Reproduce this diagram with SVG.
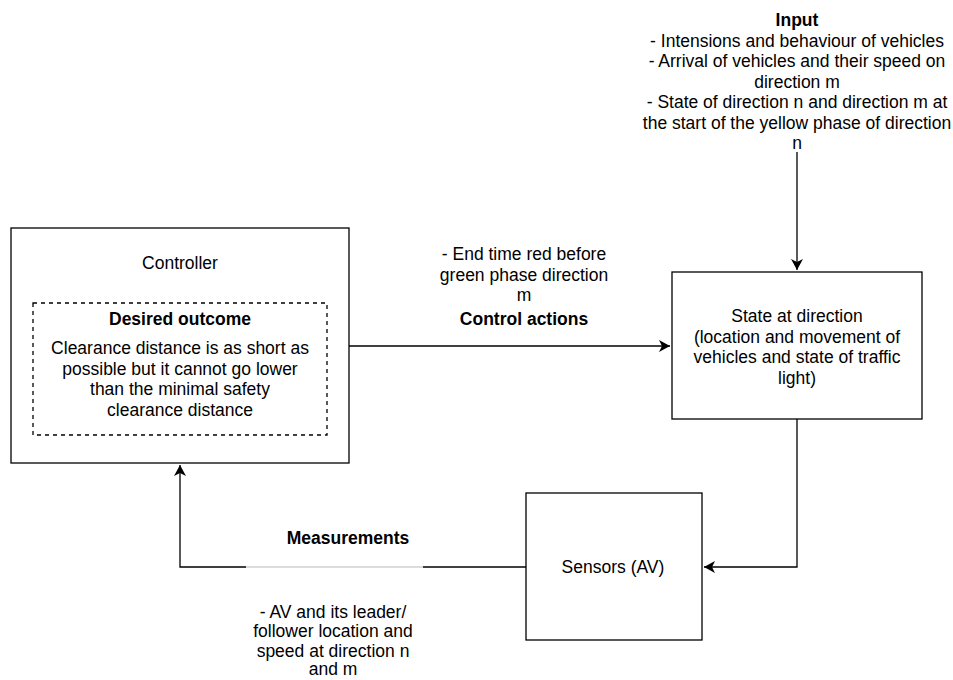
<svg xmlns="http://www.w3.org/2000/svg" width="953" height="680" viewBox="0 0 953 680">
<style>
text{font-family:"Liberation Sans",Arial,sans-serif;font-size:17.5px;fill:#000;text-anchor:middle}
.b{font-weight:bold}
.box{fill:#fff;stroke:#000;stroke-width:1.3}
.dash{fill:none;stroke:#000;stroke-width:1.3;stroke-dasharray:4 4}
.ln{fill:none;stroke:#000;stroke-width:1.3}
</style>
<defs>
<marker id="arr" markerUnits="userSpaceOnUse" markerWidth="14" markerHeight="14" refX="11" refY="6" orient="auto">
<path d="M0,0 L11,6 L0,12 L3,6 z" fill="#000"/>
</marker>
</defs>
<rect width="953" height="680" fill="#fff"/>
<g id="connectors">
<path class="ln" d="M797,152 L797,270" marker-end="url(#arr)"/>
<path class="ln" d="M349,346 L670,346" marker-end="url(#arr)"/>
<path class="ln" d="M797,419 L797,567 L704,567" marker-end="url(#arr)"/>
<path class="ln" d="M526,567 L423,567"/>
<path d="M423,567 L246,567" fill="none" stroke="#d0d0d0" stroke-width="1.3"/>
<path class="ln" d="M246,567 L180,567 L180,465" marker-end="url(#arr)"/>
</g>
<g id="input">
<text class="b" x="797" y="26">Input</text>
<text x="797" y="46.5">- Intensions and behaviour of vehicles</text>
<text x="797" y="67">- Arrival of vehicles and their speed on</text>
<text x="797" y="87.5">direction m</text>
<text x="797" y="108">- State of direction n and direction m at</text>
<text x="797" y="128.5">the start of the yellow phase of direction</text>
<text x="797" y="149">n</text>
</g>
<g id="controller">
<rect class="box" x="11" y="228" width="338" height="235"/>
<text x="180" y="269">Controller</text>
</g>
<g id="desired-outcome">
<rect class="dash" x="33" y="303" width="294" height="132"/>
<text class="b" x="180" y="325">Desired outcome</text>
<text x="180" y="354">Clearance distance is as short as</text>
<text x="180" y="374.5">possible but it cannot go lower</text>
<text x="180" y="395">than the minimal safety</text>
<text x="180" y="415.5">clearance distance</text>
</g>
<g id="control-actions">
<text x="524" y="260">- End time red before</text>
<text x="524" y="280.5">green phase direction</text>
<text x="524" y="301">m</text>
<text class="b" x="524" y="325">Control actions</text>
</g>
<g id="state">
<rect class="box" x="672" y="272" width="250" height="147"/>
<text x="797" y="322">State at direction</text>
<text x="797" y="342.5">(location and movement of</text>
<text x="797" y="363">vehicles and state of traffic</text>
<text x="797" y="383.5">light)</text>
</g>
<g id="sensors">
<rect class="box" x="526" y="493" width="176" height="147"/>
<text x="613" y="573">Sensors (AV)</text>
</g>
<g id="measurements">
<text class="b" x="348" y="544">Measurements</text>
<text x="333" y="618">- AV and its leader/</text>
<text x="333" y="637">follower location and</text>
<text x="333" y="656.5">speed at direction n</text>
<text x="333" y="675">and m</text>
</g>
</svg>
